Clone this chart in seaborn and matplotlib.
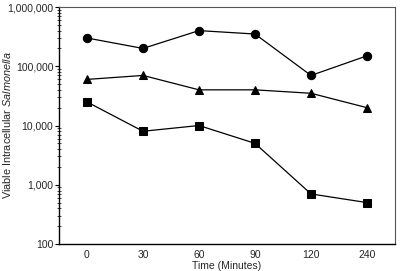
import pandas as pd
import matplotlib
matplotlib.use('Agg')
import matplotlib.pyplot as plt
import matplotlib.ticker as mticker
import seaborn as sns

# values
times = ['0', '30', '60', '90', '120', '240']
circles = [300000, 200000, 400000, 350000, 70000, 150000]
triangles = [60000, 70000, 40000, 40000, 35000, 20000]
squares = [25000, 8000, 10000, 5000, 700, 500]

df = pd.DataFrame({
    'time': times * 3,
    'count': circles + triangles + squares,
    'series': ['circle'] * 6 + ['triangle'] * 6 + ['square'] * 6,
})

sns.set_style('ticks')
plt.rcParams['font.family'] = ['Liberation Sans', 'DejaVu Sans']
plt.rcParams['mathtext.fontset'] = 'custom'
plt.rcParams['mathtext.it'] = 'Liberation Sans:italic'
plt.rcParams['mathtext.rm'] = 'Liberation Sans'

fig = plt.figure(figsize=(4, 2.71), dpi=100)
ax = fig.add_axes([0.1475, 0.0996, 0.84, 0.8745])

sns.lineplot(data=df, x='time', y='count', style='series',
             markers={'circle': 'o', 'triangle': '^', 'square': 's'},
             dashes=False, color='black', markersize=6, linewidth=0.9,
             markeredgecolor='black', sort=False, legend=False, ax=ax)

ax.set_yscale('log')
ax.set_ylim(100, 1000000)
ax.set_xlim(-0.5, 5.5)
ax.yaxis.set_major_formatter(mticker.FuncFormatter(lambda v, p: f'{int(round(v)):,}'))
ax.yaxis.set_minor_locator(mticker.LogLocator(base=10, subs=range(2, 10)))
ax.yaxis.set_minor_formatter(mticker.NullFormatter())

ax.tick_params(axis='y', which='major', length=3, width=0.8, labelsize=7.5, pad=1, color='black')
ax.tick_params(axis='y', which='minor', direction='inout', length=2.5, width=0.5, color='black')
ax.tick_params(axis='x', length=0, labelsize=7.5, pad=4)

ax.set_xlabel('Time (Minutes)', fontsize=7.5, labelpad=1)
ax.set_ylabel(r'Viable Intracellular $\mathit{Salmonella}$', fontsize=7.8)
ax.yaxis.set_label_coords(-0.137, 0.5)

for s in ['left', 'bottom']:
    ax.spines[s].set_color('black')
    ax.spines[s].set_linewidth(1.0)
for s in ['top', 'right']:
    ax.spines[s].set_visible(True)
    ax.spines[s].set_color('#555555')
    ax.spines[s].set_linewidth(0.8)

fig.savefig('out.png', dpi=100)
plt.close(fig)
